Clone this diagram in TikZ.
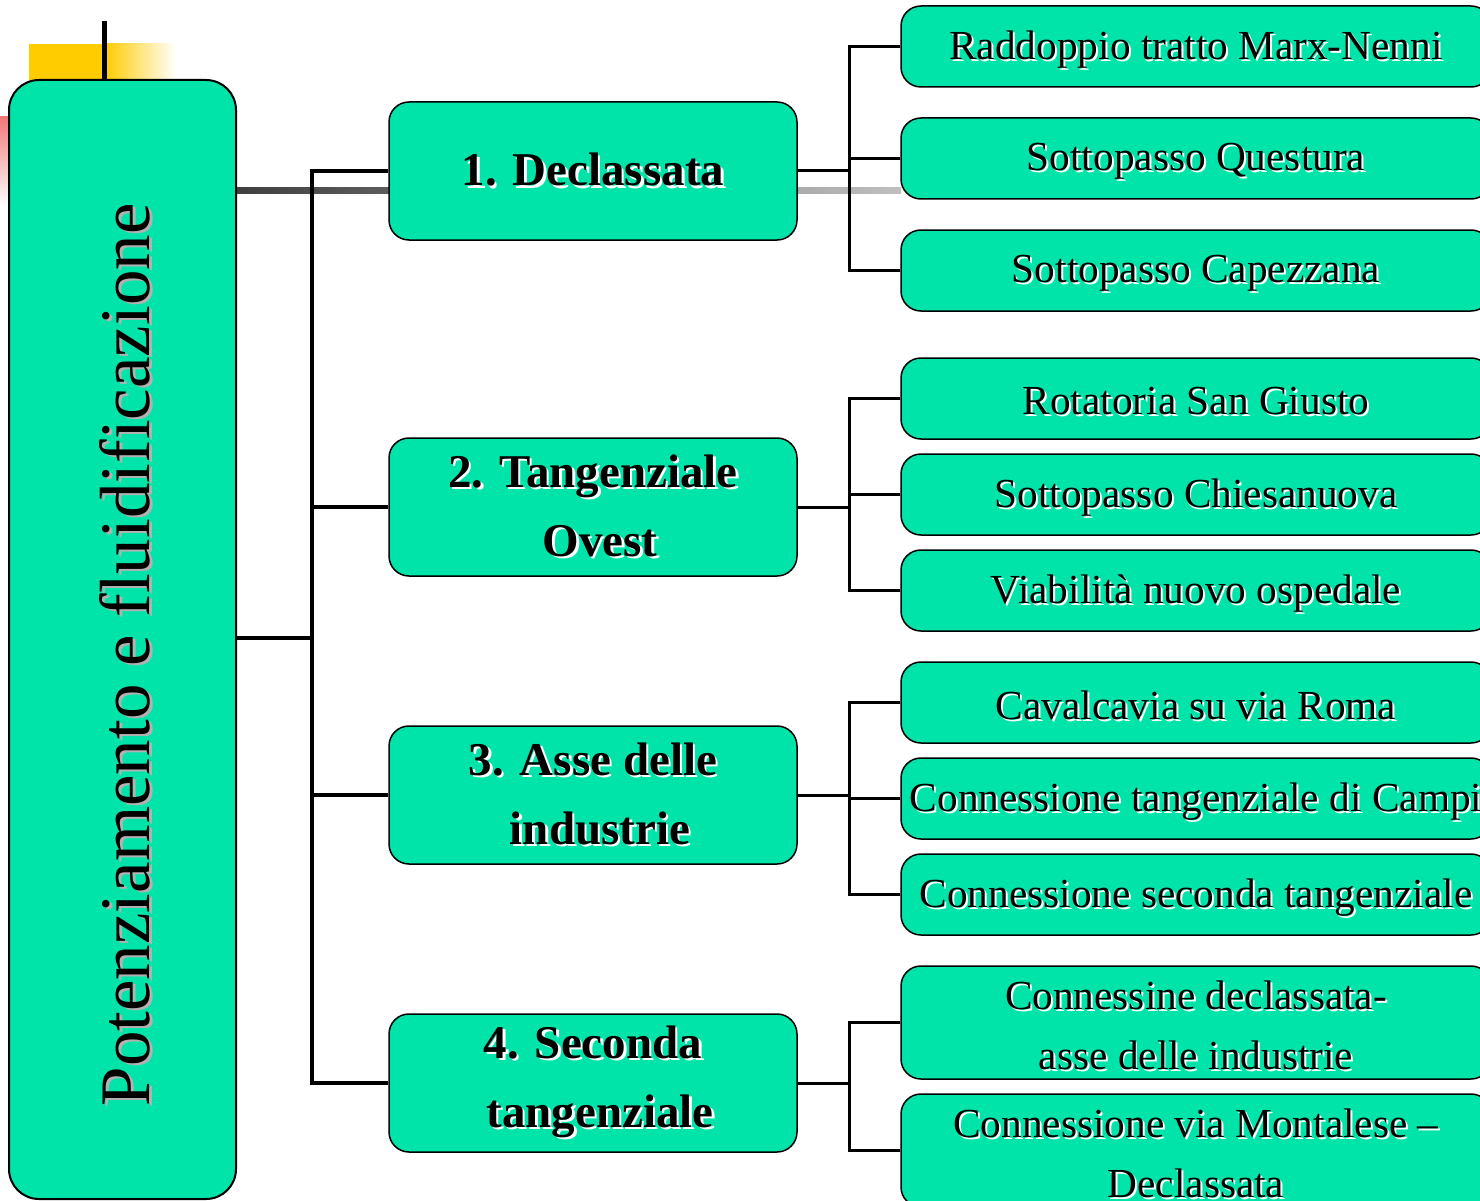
\documentclass[tikz,border=0pt]{standalone}
\usepackage{fontspec}
\setmainfont{Liberation Serif}
\definecolor{boxgreen}{HTML}{00E4AA}
\definecolor{sunyellow}{HTML}{FFCC00}
\definecolor{softred}{HTML}{F07878}
\newcommand\shtxt[4]{\makebox[0pt][l]{\hspace*{#2}\raisebox{#3}{\color{#1}#4}}#4}
\newcommand\sbw[1]{\shtxt{white}{2.5pt}{-2.5pt}{#1}}
\newcommand\scw[1]{\raisebox{-4pt}[\height][\depth]{\shtxt{white}{2pt}{-2pt}{#1}}}
\begin{document}
\begin{tikzpicture}[x=1pt,y=-1pt,
  box/.style={draw=black,line width=1.5pt,fill=boxgreen,rounded corners=20pt,inner sep=0pt},
  lvltwo/.style={box,minimum width=408pt,minimum height=138pt,align=center,font=\fontsize{47}{69}\selectfont\bfseries},
  child/.style={box,minimum width=590pt,minimum height=81pt,align=center,font=\fontsize{41.3}{60}\selectfont},
  childtall/.style={child,minimum height=113pt},
  trunk/.style={line width=4.5pt},
  branch/.style={line width=3pt}]
\useasboundingbox (0,0) rectangle (1480,1201);
\clip (0,0) rectangle (1480,1201);
% decorations
\fill[sunyellow] (29,44) rectangle (105,80);
\shade[left color=sunyellow,right color=white] (105,44) rectangle (176,80);
\draw[line width=5pt] (104,21) -- (104,82);
\shade[top color=softred,bottom color=white] (0,117) rectangle (9,206);
% main box
\node[box,rounded corners=30pt,line width=2pt,minimum width=227pt,minimum height=1119pt] (main) at (122.5,639.5) {};
\node[rotate=90,font=\fontsize{71}{71}\selectfont] (maintxt) at (126,655) {\shtxt{black!30}{-2pt}{-3pt}{Potenziamento e fluidificazione}};
% gray rule
\shade[left color=black!75,right color=black!25] (237,188) rectangle (901,194);
% level two
\node[lvltwo] (l1) at (593,171) {\sbw{1. Declassata}};
\node[lvltwo] (l2) at (593,507) {\sbw{2. Tangenziale}\\\hspace*{14pt}\sbw{Ovest}};
\node[lvltwo] (l3) at (593,795) {\sbw{3. Asse delle}\\\hspace*{14pt}\sbw{industrie}};
\node[lvltwo] (l4) at (593,1083) {\sbw{4. Seconda}\\\hspace*{14pt}\sbw{tangenziale}};
% children
\node[child] (c11) at (1196,46.5) {\scw{Raddoppio tratto Marx-Nenni}};
\node[child] (c12) at (1196,158.5) {\scw{Sottopasso Questura}};
\node[child] (c13) at (1196,270.5) {\scw{Sottopasso Capezzana}};
\node[child] (c21) at (1196,398.5) {\scw{Rotatoria San Giusto}};
\node[child] (c22) at (1196,494.5) {\scw{Sottopasso Chiesanuova}};
\node[child] (c23) at (1196,590.5) {\scw{Viabilità nuovo ospedale}};
\node[child] (c31) at (1196,702.5) {\scw{Cavalcavia su via Roma}};
\node[child] (c32) at (1196,798.5) {\scw{Connessione tangenziale di Campi}};
\node[child] (c33) at (1196,894.5) {\scw{Connessione seconda tangenziale}};
\node[childtall] (c41) at (1196,1022.5) {\scw{Connessine declassata-}\\\scw{asse delle industrie}};
\node[childtall] (c42) at (1196,1150.5) {\scw{Connessione via Montalese –}\\\scw{Declassata}};
% trunk
\coordinate (t) at (312,638);
\draw[trunk] (main.east |- t) -- (t);
\draw[trunk] (l1.west) -| (t);
\draw[trunk] (l4.west) -| (t);
\draw[trunk] (l2.west) -- (l2.west -| t);
\draw[trunk] (l3.west) -- (l3.west -| t);
% branches
\foreach \g/\a/\b/\c in {1/c11/c12/c13,2/c21/c22/c23,3/c31/c32/c33}{
  \coordinate (j\g) at ([xshift=52pt]l\g.east);
  \draw[branch] (l\g.east) -- (j\g);
  \draw[branch] (\a.west) -| (j\g);
  \draw[branch] (\c.west) -| (j\g);
  \draw[branch] (\b.west) -- (\b.west -| j\g);
}
\coordinate (j4) at ([xshift=52pt]l4.east);
\draw[branch] (l4.east) -- (j4);
\draw[branch] (c41.west) -| (j4);
\draw[branch] (c42.west) -| (j4);
\end{tikzpicture}
\end{document}
